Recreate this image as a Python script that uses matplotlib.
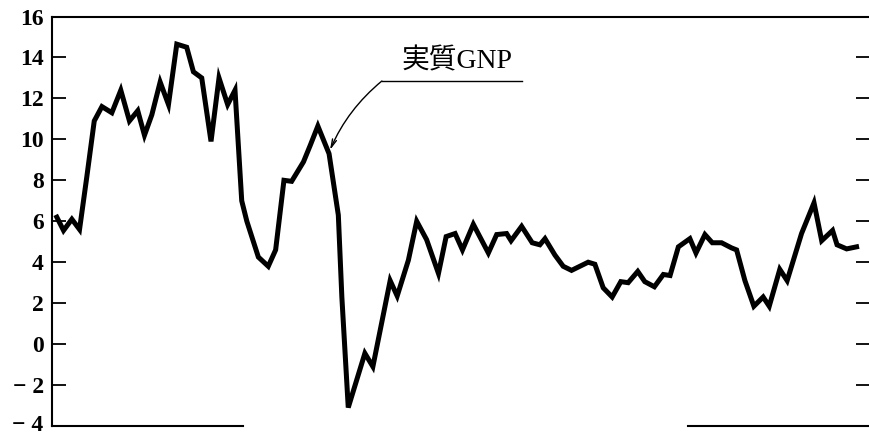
import matplotlib.pyplot as plt
import matplotlib.transforms as mtransforms

# 実質GNP成長率 (前年同期比, %) - 図から読み取った値
years = [1965.00, 1965.21, 1965.47, 1965.71, 1965.94, 1966.17, 1966.41, 1966.72,
         1967.00, 1967.27, 1967.53, 1967.74, 1967.97, 1968.23, 1968.49, 1968.75,
         1969.06, 1969.27, 1969.53, 1969.82, 1970.07, 1970.34, 1970.57, 1970.78,
         1970.94, 1971.30, 1971.61, 1971.84, 1972.10, 1972.34, 1972.71, 1972.92,
         1973.16, 1973.51, 1973.80, 1973.91, 1974.11, 1974.63, 1974.88, 1975.42,
         1975.64, 1975.99, 1976.25, 1976.56, 1976.93, 1977.17, 1977.45, 1977.68,
         1978.02, 1978.49, 1978.75, 1979.06, 1979.20, 1979.53, 1979.86, 1980.10,
         1980.26, 1980.57, 1980.83, 1981.09, 1981.61, 1981.82, 1982.08, 1982.36,
         1982.63, 1982.86, 1983.16, 1983.38, 1983.68, 1983.96, 1984.17, 1984.43,
         1984.79, 1984.98, 1985.26, 1985.49, 1985.78, 1986.09, 1986.25, 1986.51,
         1986.79, 1987.08, 1987.27, 1987.60, 1987.83, 1988.28, 1988.67, 1988.91,
         1989.25, 1989.39, 1989.69, 1990.00]
gnp = [6.2, 5.55, 6.1, 5.6, 8.2, 10.9, 11.6, 11.3,
       12.4, 10.9, 11.4, 10.2, 11.2, 12.8, 11.7, 14.65,
       14.5, 13.3, 13.0, 9.9, 13.0, 11.7, 12.4, 7.0,
       6.0, 4.25, 3.8, 4.6, 8.0, 7.95, 8.9, 9.7,
       10.65, 9.3, 6.3, 2.3, -3.1, -0.45, -1.1, 3.1,
       2.35, 4.1, 6.0, 5.1, 3.45, 5.25, 5.4, 4.6,
       5.85, 4.45, 5.35, 5.4, 5.05, 5.75, 4.95, 4.85,
       5.15, 4.35, 3.8, 3.6, 4.0, 3.9, 2.75, 2.3,
       3.05, 3.0, 3.55, 3.05, 2.8, 3.4, 3.35, 4.75,
       5.15, 4.45, 5.35, 4.95, 4.95, 4.7, 4.6, 3.1,
       1.85, 2.3, 1.85, 3.65, 3.1, 5.4, 6.9, 5.05,
       5.55, 4.85, 4.65, 4.75]

yticks = [-4, -2, 0, 2, 4, 6, 8, 10, 12, 14, 16]
ylabels = ['− 4', '− 2', '0', '2', '4', '6', '8', '10', '12', '14', '16']

fig = plt.figure(figsize=(8.7, 4.37), dpi=100)
ax = fig.add_axes([0.0598, 0.0252, 0.9402, 0.937])

ax.plot(years, gnp, color='black', lw=3.6, solid_joinstyle='miter')

ax.set_xlim(1964.85, 1990.42)
ax.set_ylim(-4, 16)
ax.set_xticks([])
ax.set_yticks(yticks)
ax.set_yticklabels(ylabels, family='Liberation Serif', fontweight='bold', fontsize=17)
ax.tick_params(axis='y', direction='in', length=10, width=1.3, pad=6,
               left=True, right=True)

# 一番下のラベルが切れないように少し上へ
lab = ax.get_yticklabels()[0]
lab.set_transform(lab.get_transform() +
                  mtransforms.ScaledTranslation(0, 2.5 / 72, fig.dpi_scale_trans))

for s in ['right', 'bottom']:
    ax.spines[s].set_visible(False)
ax.spines['left'].set_linewidth(1.5)
ax.spines['top'].set_linewidth(1.5)

# 下の枠線は途切れている
ax.axhline(-4, xmin=0, xmax=0.2335, color='black', lw=1.5, clip_on=False)
ax.axhline(-4, xmin=0.7775, xmax=1, color='black', lw=1.5, clip_on=False)

# 注記
ax.plot([1975.16, 1979.53], [12.85, 12.85], color='black', lw=1.0)
ax.annotate('', xy=(1973.54, 9.48), xytext=(1975.16, 12.85),
            arrowprops=dict(arrowstyle='->,head_length=0.6,head_width=0.15',
                            color='black', lw=1.0,
                            connectionstyle='arc3,rad=0.12',
                            shrinkA=0, shrinkB=0))
ax.text(1977.52, 13.8, '実質GNP', ha='center', va='center', fontsize=20,
        family=['Liberation Serif', 'Noto Sans CJK JP'])

fig.savefig('out.png', dpi=100)
